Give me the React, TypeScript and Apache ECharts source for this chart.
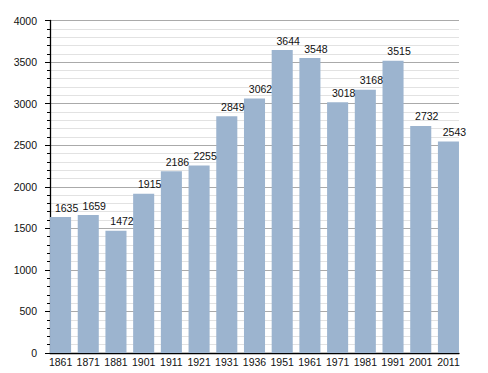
import React, { useEffect, useRef } from "react";
import * as echarts from "echarts";

const years = ["1861", "1871", "1881", "1901", "1911", "1921", "1931", "1936", "1951", "1961", "1971", "1981", "1991", "2001", "2011"];
const population = [1635, 1659, 1472, 1915, 2186, 2255, 2849, 3062, 3644, 3548, 3018, 3168, 3515, 2732, 2543];
const yMin = 0;
const yMax = 4000;
const yInterval = 500;

const FONT = "'Liberation Sans', Arial, sans-serif";

export default function App() {
  const ref = useRef<HTMLDivElement>(null);
  useEffect(() => {
    if (!ref.current) return;
    const chart = echarts.init(ref.current, null, { renderer: "svg" });
    const top = 20.5;
    const bottom = 20;
    chart.setOption({
      animation: false,
      grid: [
        { left: 46.7, width: 415.6, top, bottom, containLabel: false },
        { left: 50, width: 409, top, bottom, containLabel: false },
      ],
      xAxis: [
        {
          type: "category",
          gridIndex: 0,
          data: years,
          axisLine: { show: false },
          axisTick: { show: false },
          axisLabel: { color: "#111", fontSize: 10.5, fontFamily: FONT, margin: 3, interval: 0 },
          splitLine: { show: false },
        },
        {
          type: "category",
          gridIndex: 1,
          data: years,
          axisLine: { show: true, lineStyle: { color: "#000", width: 1.3 } },
          axisTick: { show: false },
          axisLabel: { show: false },
          splitLine: { show: false },
        },
      ],
      yAxis: [
        {
          type: "value",
          gridIndex: 0,
          min: yMin,
          max: yMax,
          interval: yInterval,
          show: false,
          splitLine: { show: false },
        },
        {
          type: "value",
          gridIndex: 1,
          min: yMin,
          max: yMax,
          interval: yInterval,
          axisLine: { show: true, lineStyle: { color: "#000", width: 1.3 } },
          axisTick: { show: true, length: 5, lineStyle: { color: "#000" } },
          minorTick: { show: true, splitNumber: 5, length: 3, lineStyle: { color: "#000" } },
          axisLabel: {
            color: "#111",
            fontSize: 10.5,
            fontFamily: FONT,
            margin: 13,
            formatter: (v: number) => String(v),
          },
          splitLine: { show: true, lineStyle: { color: "#aaaaaa", width: 1 } },
          minorSplitLine: { show: true, lineStyle: { color: "#e2e2e2", width: 1 } },
        },
      ],
      series: [
        {
          type: "bar",
          xAxisIndex: 0,
          yAxisIndex: 0,
          data: population,
          barCategoryGap: "24%",
          itemStyle: { color: "#9cb4cf" },
          label: {
            show: true,
            position: "top",
            distance: 4,
            offset: [6, 0],
            color: "#111",
            fontSize: 10.5,
            fontFamily: FONT,
          },
          z: 3,
        },
      ],
    });
    return () => chart.dispose();
  }, []);
  return <div ref={ref} style={{ width: 488, height: 373, position: "absolute", left: 0, top: 0 }} />;
}
